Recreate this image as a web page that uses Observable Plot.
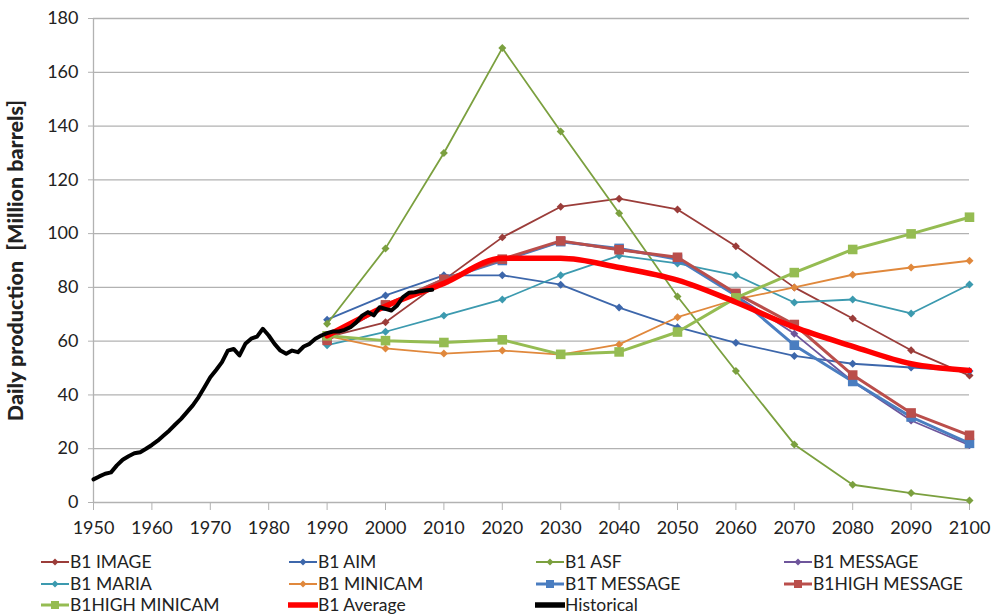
<!DOCTYPE html>
<html><head><meta charset="utf-8">
<script src="https://cdn.jsdelivr.net/npm/d3@7"></script>
<script src="https://cdn.jsdelivr.net/npm/@observablehq/plot@0.6"></script>
<style>
body{margin:0;background:#fff;font-family:Lato,"Open Sans",sans-serif;}
#wrap{position:relative;width:992px;height:614px;overflow:hidden;background:#fff;}
#chart svg text{white-space:pre;}
#chart svg [aria-label="y-axis label"]{font-weight:900;font-size:21.5px;}
.li{position:absolute;display:flex;align-items:center;font-size:17.5px;color:#222;white-space:nowrap;height:20px;line-height:20px;}
</style></head><body><div id="wrap"><div id="chart"></div></div>
<script>
// ---- data ----
const years = [1990, 2000, 2010, 2020, 2030, 2040, 2050, 2060, 2070, 2080, 2090, 2100];
const b1Image        = [61.5, 67, 82.8, 98.6, 110, 113, 109, 95.3, 80, 68.4, 56.6, 47.2];
const b1Aim          = [68, 77, 84.5, 84.5, 81, 72.5, 65.2, 59.4, 54.5, 51.6, 50.2, 48.9];
const b1Asf          = [66.5, 94.5, 130, 169, 138, 107.6, 76.6, 48.9, 21.6, 6.6, 3.5, 0.7];
const b1Message      = [61, 73, 83, 90, 97, 94, 91, 77, 62.8, 45, 30.5, 21.3];
const b1Maria        = [58.5, 63.5, 69.5, 75.5, 84.5, 91.8, 88.9, 84.5, 74.4, 75.5, 70.3, 81.1];
const b1Minicam      = [62, 57.3, 55.4, 56.5, 55, 58.8, 68.9, 75.5, 80, 84.7, 87.4, 89.9];
const b1tMessage     = [61, 73, 83, 90, 97, 94.5, 90.5, 77, 58.5, 45, 31.8, 22];
const b1HighMessage  = [60.3, 73.5, 83, 90.5, 97.3, 94, 91.2, 77.8, 66.2, 47.4, 33.3, 25];
const b1HighMinicam  = [62, 60.2, 59.5, 60.5, 55.1, 56, 63.4, 76.1, 85.5, 94.1, 99.9, 106.1];
const b1Average      = [62, 73, 81.5, 90.8, 90.8, 87.4, 82.7, 74.5, 65.2, 58.1, 51.6, 49.1];

const histYears = [1950,1951,1952,1953,1954,1955,1956,1957,1958,1959,1960,1961,1962,1963,1964,1965,1966,1967,1968,1969,1970,1971,1972,1973,1974,1975,1976,1977,1978,1979,1980,1981,1982,1983,1984,1985,1986,1987,1988,1989,1990,1991,1992,1993,1994,1995,1996,1997,1998,1999,2000,2001,2002,2003,2004,2005,2006,2007,2008];
const histValues = [8.6,9.7,10.7,11.2,13.8,15.9,17.2,18.3,18.7,20,21.4,23,24.9,26.8,29,31.1,33.6,36.1,39.2,42.9,46.6,49.3,52.2,56.5,57.1,54.7,59,60.9,61.7,64.6,62.1,59,56.5,55.3,56.5,55.9,58,59,60.9,62.1,63,63.6,63.6,64.2,65.2,67,69.5,70.8,69.6,72.6,72,71.4,73.3,76.4,78,78.2,78.6,78.9,79.1];

const yTicks = [0, 20, 40, 60, 80, 100, 120, 140, 160, 180];
const xTicks = [1950, 1960, 1970, 1980, 1990, 2000, 2010, 2020, 2030, 2040, 2050, 2060, 2070, 2080, 2090, 2100];
const yTitle = "Daily production  [Million barrels]";

const seriesNames = ["B1 IMAGE","B1 AIM","B1 ASF","B1 MESSAGE","B1 MARIA","B1 MINICAM","B1T MESSAGE","B1HIGH MESSAGE","B1HIGH MINICAM","B1 Average","Historical"];
const seriesValues = [b1Image,b1Aim,b1Asf,b1Message,b1Maria,b1Minicam,b1tMessage,b1HighMessage,b1HighMinicam,b1Average,histValues];

// ---- styles ----
const styles = {
  "B1 IMAGE":       {color:"#9B3D3A", w:1.8, sym:"diamond2", r:3.6},
  "B1 AIM":         {color:"#3D67AB", w:1.8, sym:"diamond2", r:3.6},
  "B1 ASF":         {color:"#7BA03F", w:1.8, sym:"diamond2", r:3.6},
  "B1 MESSAGE":     {color:"#6E559B", w:1.8, sym:"diamond2", r:3.6},
  "B1 MARIA":       {color:"#3C9AAF", w:1.8, sym:"diamond2", r:3.6},
  "B1 MINICAM":     {color:"#E0883C", w:1.8, sym:"diamond2", r:3.6},
  "B1T MESSAGE":    {color:"#4A7DC0", w:3,   sym:"square",   r:5.4},
  "B1HIGH MESSAGE": {color:"#BA4E4B", w:3,   sym:"square",   r:5.4},
  "B1HIGH MINICAM": {color:"#95BC52", w:3,   sym:"square",   r:5.4},
  "B1 Average":     {color:"#FF0000", w:5.5, sym:null, curve:"monotone-x"},
  "Historical":     {color:"#000000", w:4,   sym:null}
};

const rows = [];
seriesNames.forEach((name, i) => {
  const xs = name === "Historical" ? histYears : years;
  seriesValues[i].forEach((v, j) => rows.push({series: name, year: xs[j], value: v}));
});

const marks = [
  Plot.gridY(yTicks, {stroke: "#b2b2b2", strokeOpacity: 1, strokeWidth: 1.3}),
  Plot.ruleX([1950], {stroke: "#b2b2b2", strokeWidth: 1.3}),
  Plot.axisY(yTicks, {tickSize: 5, tickPadding: 10, stroke: "#b2b2b2", fontSize: 18,
    label: yTitle, labelAnchor: "center", labelArrow: "none", labelOffset: 86}),
  Plot.axisX(xTicks, {tickSize: 8, tickPadding: 11, stroke: "#b2b2b2", fontSize: 18,
    tickFormat: d => String(d), label: null})
];
seriesNames.forEach(name => {
  const s = styles[name];
  const data = rows.filter(d => d.series === name);
  marks.push(Plot.line(data, {x: "year", y: "value", stroke: s.color, strokeWidth: s.w,
    curve: s.curve || "linear", strokeLinejoin: "round", strokeLinecap: "round"}));
  if (s.sym) marks.push(Plot.dot(data, {x: "year", y: "value", symbol: s.sym, r: s.r, fill: s.color, stroke: "none"}));
});

const chart = Plot.plot({
  width: 992, height: 545,
  marginTop: 18, marginBottom: 43, marginLeft: 93, marginRight: 23,
  style: {fontFamily: "Lato, 'Open Sans', sans-serif", fontSize: "18px", color: "#222", background: "#fff", overflow: "visible"},
  x: {domain: [1950, 2100]},
  y: {domain: [0, 180]},
  marks
});
document.getElementById("chart").appendChild(chart);
chart.querySelectorAll('[aria-label="y-axis label"] text').forEach(el => {
  el.setAttribute("font-weight", "900");
  el.setAttribute("font-size", "21.5");
});

// ---- legend ----
const colLeft = [40, 288, 535, 783];
const rowMid = [562, 584, 605];
const wrap = document.getElementById("wrap");
seriesNames.forEach((name, i) => {
  const s = styles[name];
  const col = i % 4, row = Math.floor(i / 4);
  const div = document.createElement("div");
  div.className = "li";
  div.style.left = colLeft[col] + "px";
  div.style.top = (rowMid[row] - 10) + "px";
  const ns = "http://www.w3.org/2000/svg";
  const sv = document.createElementNS(ns, "svg");
  sv.setAttribute("width", 30); sv.setAttribute("height", 20);
  const ln = document.createElementNS(ns, "line");
  ln.setAttribute("x1", 1); ln.setAttribute("x2", 29); ln.setAttribute("y1", 10); ln.setAttribute("y2", 10);
  ln.setAttribute("stroke", s.color);
  ln.setAttribute("stroke-width", s.sym ? (s.w > 2 ? 3 : 2) : 5.5);
  ln.setAttribute("stroke-linecap", s.sym ? "butt" : "round");
  sv.appendChild(ln);
  if (s.sym === "diamond2") {
    const p = document.createElementNS(ns, "path");
    p.setAttribute("d", "M15,6.5L18.5,10L15,13.5L11.5,10Z"); p.setAttribute("fill", s.color);
    sv.appendChild(p);
  } else if (s.sym === "square") {
    const p = document.createElementNS(ns, "rect");
    p.setAttribute("x", 11); p.setAttribute("y", 6); p.setAttribute("width", 8); p.setAttribute("height", 8);
    p.setAttribute("fill", s.color); sv.appendChild(p);
  }
  div.appendChild(sv);
  const t = document.createElement("span");
  t.textContent = name;
  div.appendChild(t);
  wrap.appendChild(div);
});
</script></body></html>
